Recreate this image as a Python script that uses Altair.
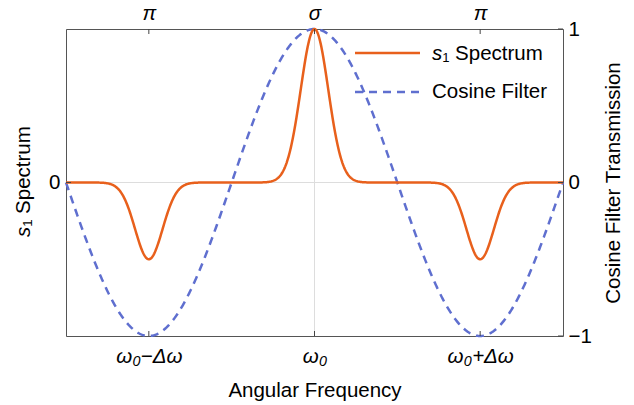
import numpy as np
import pandas as pd
import altair as alt

# ---- data ----
x_domain = [-1.5, 1.5]
y_domain = [-1.0, 1.0]
peak_centers = [-1.0, 0.0, 1.0]      # omega0-dw, omega0, omega0+dw
peak_amps = [-0.5, 1.0, -0.5]
peak_width = 0.083                    # gaussian sigma (units of dw)
cos_period = 2.0                      # cosine filter period (units of dw)

x_ticks = [-1.0, 0.0, 1.0]
bottom_tick_labels = ["ω₀−Δω", "ω₀", "ω₀+Δω"]
top_tick_labels = ["π", "σ", "π"]
left_ticks = [0.0]
right_ticks = [-1.0, 0.0, 1.0]

legend_names = ["₁ Spectrum", "Cosine Filter"]

ORANGE = "#E8601C"
BLUE = "#5F6FCF"
FRAME = "#555555"
FONT = "Liberation Sans"
FS = 20.5
W, H = 497, 307

xs = np.linspace(x_domain[0], x_domain[1], 801)
spec = np.zeros_like(xs)
for c, a in zip(peak_centers, peak_amps):
    spec += a * np.exp(-((xs - c) ** 2) / (2 * peak_width ** 2))
cosf = np.cos(2 * np.pi * xs / cos_period)

df = pd.DataFrame({"x": xs, "s": spec, "c": cosf})

xs_scale = alt.Scale(domain=x_domain, nice=False, zero=False)
ys_scale = alt.Scale(domain=y_domain, nice=False, zero=False)


def label_expr(vals, labels):
    parts = []
    for v, l in zip(vals, labels):
        parts.append(f"abs(datum.value - ({v})) < 1e-6 ? '{l}' : ")
    return "".join(parts) + "''"


common = dict(labelFont=FONT, labelFontSize=FS, labelColor="black", tickSize=0,
              domain=True, domainColor=FRAME, domainWidth=1, grid=False)

one = pd.DataFrame({"k": [0]})

grid_x = alt.Chart(pd.DataFrame({"x": [0.0]})).mark_rule(color="#dddddd", strokeWidth=1).encode(
    x=alt.X("x:Q", scale=xs_scale, axis=None))
grid_y = alt.Chart(pd.DataFrame({"y": [0.0]})).mark_rule(color="#dddddd", strokeWidth=1).encode(
    y=alt.Y("y:Q", scale=ys_scale, axis=None))

cos_line = alt.Chart(df).mark_line(color=BLUE, strokeWidth=2.5, strokeDash=[8, 6]).encode(
    x=alt.X("x:Q", scale=xs_scale, axis=alt.Axis(
        orient="top", values=x_ticks, labelExpr=label_expr(x_ticks, top_tick_labels),
        labelFontStyle="italic", labelBaseline="alphabetic", labelPadding=9.5,
        title=None, **common)),
    y=alt.Y("c:Q", scale=ys_scale, axis=alt.Axis(
        orient="right", values=right_ticks, format=".0f", labelPadding=5,
        labelBaseline="middle", title="Cosine Filter Transmission",
        titleFont=FONT, titleFontSize=FS, titleFontWeight="normal", titleColor="black",
        titleAngle=270, titleX=50, titleY=H / 2, titleAlign="center",
        titleBaseline="middle", **common)),
)

spec_line = alt.Chart(df).mark_line(color=ORANGE, strokeWidth=2.5).encode(
    x=alt.X("x:Q", scale=xs_scale, axis=alt.Axis(
        orient="bottom", values=x_ticks, labelExpr=label_expr(x_ticks, bottom_tick_labels),
        labelFontStyle="italic", labelBaseline="alphabetic", labelPadding=26,
        title="Angular Frequency", titleFont=FONT, titleFontSize=FS,
        titleFontWeight="normal", titleColor="black", titleBaseline="alphabetic",
        titleY=60, titleX=W / 2, **common)),
    y=alt.Y("s:Q", scale=ys_scale, axis=alt.Axis(
        orient="left", values=left_ticks, labelPadding=6, labelBaseline="middle",
        title=None, **common)),
)

TICK = "#444444"
tx = pd.DataFrame({"x": x_ticks})
ty_r = pd.DataFrame({"y": right_ticks})
ty_l = pd.DataFrame({"y": left_ticks})
tick_bottom = alt.Chart(tx).mark_rule(color=TICK, strokeWidth=1).encode(
    x=alt.X("x:Q", scale=xs_scale, axis=None), y=alt.value(H), y2=alt.value(H - 5))
tick_top = alt.Chart(tx).mark_rule(color=TICK, strokeWidth=1).encode(
    x=alt.X("x:Q", scale=xs_scale, axis=None), y=alt.value(0), y2=alt.value(5))
tick_right = alt.Chart(ty_r).mark_rule(color=TICK, strokeWidth=1).encode(
    y=alt.Y("y:Q", scale=ys_scale, axis=None), x=alt.value(W), x2=alt.value(W - 5))
tick_left = alt.Chart(ty_l).mark_rule(color=TICK, strokeWidth=1).encode(
    y=alt.Y("y:Q", scale=ys_scale, axis=None), x=alt.value(0), x2=alt.value(5))

# legend (manual)
leg1 = alt.Chart(one).mark_rule(color=ORANGE, strokeWidth=2.5).encode(
    x=alt.value(289), x2=alt.value(354), y=alt.value(24))
leg2 = alt.Chart(one).mark_rule(color=BLUE, strokeWidth=2.5, strokeDash=[8, 6]).encode(
    x=alt.value(289), x2=alt.value(354), y=alt.value(63))
leg_s = alt.Chart(one).mark_text(text="s", font=FONT, fontSize=FS, fontStyle="italic",
                                 align="left", baseline="alphabetic", color="black").encode(
    x=alt.value(366), y=alt.value(31))
leg_t1 = alt.Chart(one).mark_text(text=legend_names[0], font=FONT, fontSize=FS,
                                  align="left", baseline="alphabetic", color="black").encode(
    x=alt.value(376.5), y=alt.value(31))
leg_t2 = alt.Chart(one).mark_text(text=legend_names[1], font=FONT, fontSize=FS,
                                  align="left", baseline="alphabetic", color="black").encode(
    x=alt.value(366), y=alt.value(69))

# left axis title (manual, rotated)
lt_s = alt.Chart(one).mark_text(text="s", font=FONT, fontSize=FS, fontStyle="italic",
                                align="left", baseline="middle", angle=270, color="black").encode(
    x=alt.value(-42), y=alt.value(208))
lt_t = alt.Chart(one).mark_text(text=legend_names[0], font=FONT, fontSize=FS,
                                align="left", baseline="middle", angle=270, color="black").encode(
    x=alt.value(-42), y=alt.value(197.5))

chart = alt.layer(
    grid_x, grid_y, cos_line, spec_line,
    tick_bottom, tick_top, tick_right, tick_left,
    leg1, leg2, leg_s, leg_t1, leg_t2, lt_s, lt_t,
).resolve_axis(x="independent", y="independent").properties(
    width=W, height=H, autosize="none",
    padding={"left": 66, "top": 29, "right": 71, "bottom": 69},
).configure_view(stroke=None).configure(background="white")

chart.save("out.html", embed_options={"renderer": "svg", "actions": False})
